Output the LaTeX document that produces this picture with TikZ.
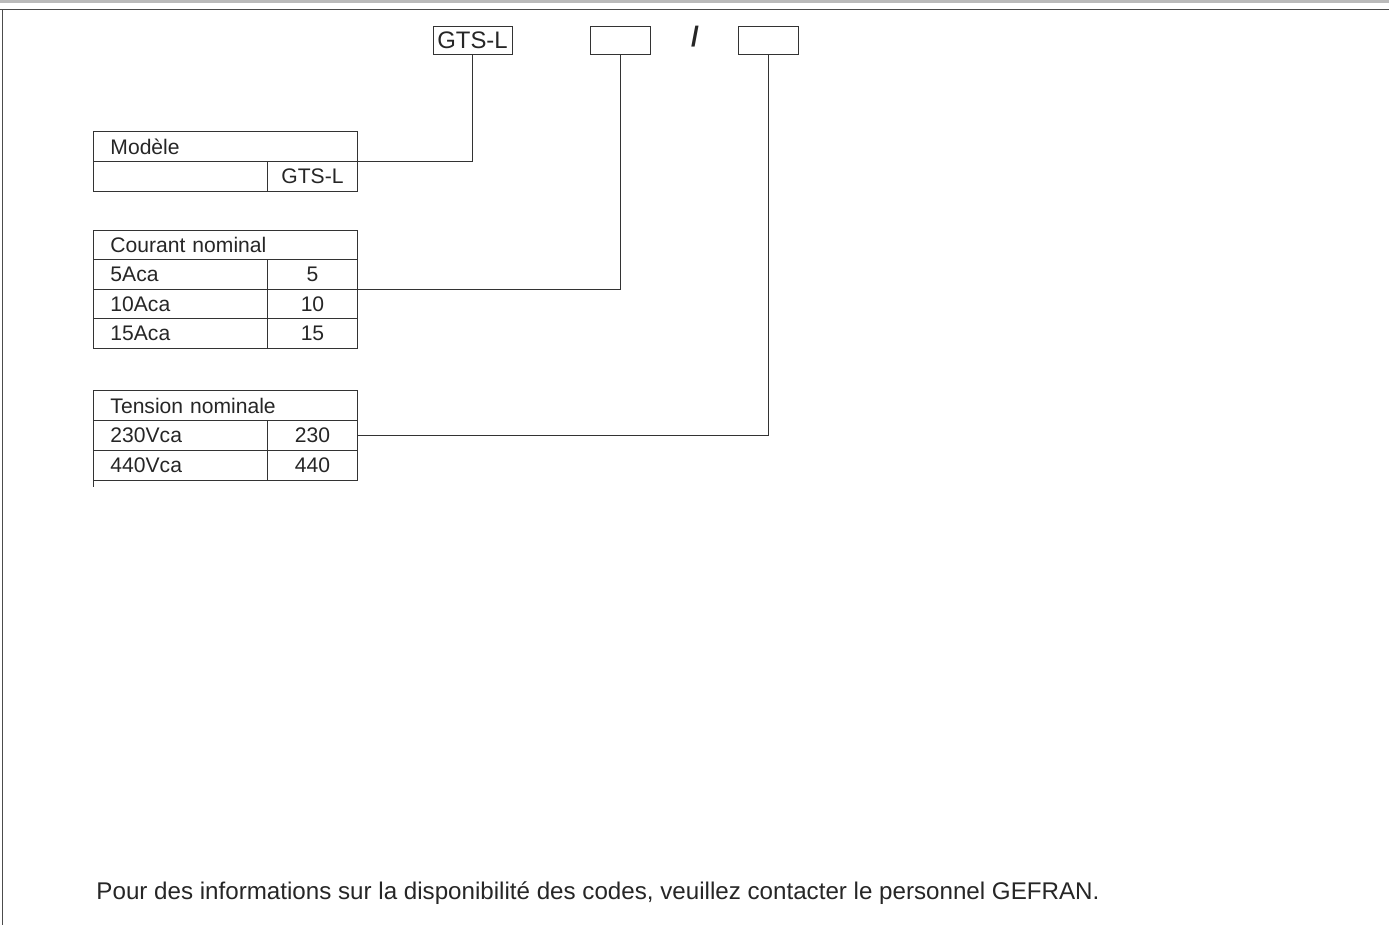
\documentclass[tikz,border=0pt]{standalone}
\usepackage{fontspec}
\setmainfont{Liberation Sans}
\begin{document}
\begin{tikzpicture}[x=0.02cm,y=-0.02cm,line width=0.55pt,
  every node/.style={font=\fontsize{12}{14}\selectfont,text=black!85},
  codebox/.style={draw=black!80,minimum width=#1,minimum height=0.56cm,inner sep=0pt,font=\fontsize{13.6}{15}\selectfont},
  hdr/.style={draw=black!80,anchor=north west,minimum height=#1,inner xsep=0.34cm,inner ysep=0pt,text width=4.6cm,align=left},
  lcell/.style={draw=black!80,anchor=north west,minimum height=#1,inner xsep=0.34cm,inner ysep=0pt,text width=2.8cm,align=left},
  rcell/.style={draw=black!80,anchor=north west,minimum height=#1,minimum width=1.8cm,inner sep=0pt},
  link/.style={draw=black!80}]
\useasboundingbox (0,0) rectangle (1389,925);
\fill[black!27] (0,0) rectangle (1389,3.5);
\draw[black!70,line width=0.9pt] (0,9.5) -- (1389,9.5);
\draw[black!70] (2.5,9.5) -- (2.5,925);
% code
\node[codebox=1.58cm] (gts) at (472.5,40) {GTS-L};
\node[codebox=1.2cm] (amp) at (620,40) {};
\node[font=\bfseries\fontsize{16}{18}\selectfont] (sep) at (695,37) {/};
\node[codebox=1.2cm] (volt) at (768,40) {};
% Modele
\node[hdr=0.6cm] (mod) at (93,131) {Modèle};
\node[lcell=0.6cm] (modl) at (93,161) {};
\node[rcell=0.6cm] (modr) at (267,161) {GTS-L};
% Courant nominal
\node[hdr=0.59cm] (cour) at (93,230) {Courant nominal};
\foreach \a/\v [count=\i] in {5Aca/5,10Aca/10,15Aca/15}{
  \node[lcell=0.59cm] (courl\i) at (93,230+29.5*\i) {\a};
  \node[rcell=0.59cm] (courr\i) at (267,230+29.5*\i) {\v};
}
% Tension nominale
\node[hdr=0.6cm] (tens) at (93,390) {Tension nominale};
\foreach \a/\v [count=\i] in {230Vca/230,440Vca/440}{
  \node[lcell=0.6cm] (tensl\i) at (93,390+30*\i) {\a};
  \node[rcell=0.6cm] (tensr\i) at (267,390+30*\i) {\v};
}
\draw[black!80] (tensl2.south west) -- ++(0,6);
% links
\draw[link] (gts.south) |- (mod.south east);
\draw[link] (amp.south) |- (courr1.south east);
\draw[link] (volt.south) |- (tensr1.east);
\node[anchor=west,inner sep=0pt,font=\fontsize{13.75}{16}\selectfont] (note) at (96,893) {Pour des informations sur la disponibilité des codes, veuillez contacter le personnel GEFRAN.};
\end{tikzpicture}
\end{document}
